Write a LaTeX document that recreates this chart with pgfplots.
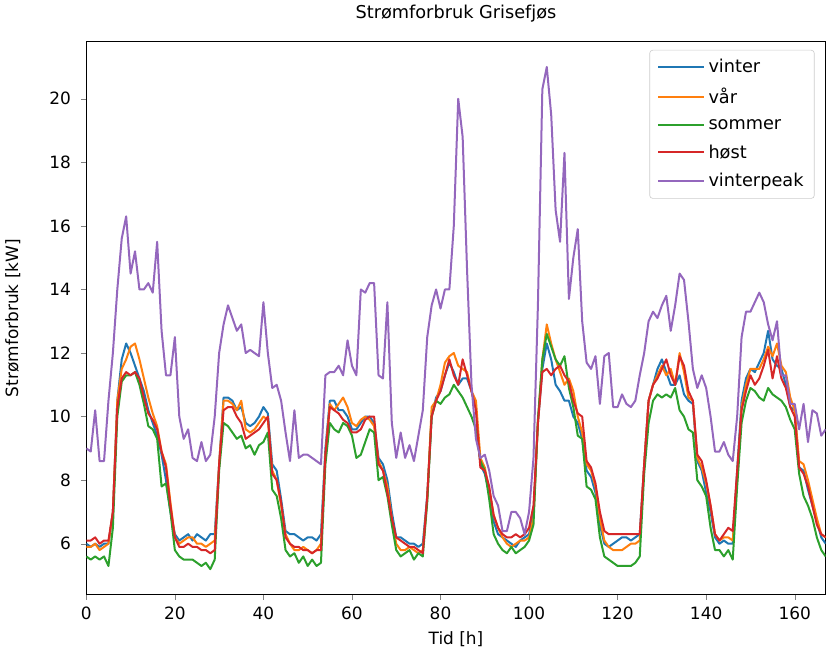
\documentclass[border=0pt]{standalone}
\usepackage{pgfplots}
\usepackage{pgfplotstable}
\pgfplotsset{compat=1.18}
\usepackage{fontspec}
\setmainfont{DejaVu Sans}
\definecolor{c1}{HTML}{1F77B4}
\definecolor{c2}{HTML}{FF7F0E}
\definecolor{c3}{HTML}{2CA02C}
\definecolor{c4}{HTML}{D62728}
\definecolor{c5}{HTML}{9467BD}
\pgfplotstableread{
h v a s o p
0 6.0 5.9 5.6 6.1 9.0
1 5.9 5.9 5.5 6.1 8.9
2 6.0 6.0 5.6 6.2 10.2
3 5.9 5.8 5.5 6.0 8.6
4 6.0 5.9 5.6 6.1 8.6
5 6.0 6.0 5.3 6.1 10.5
6 7.0 7.0 6.5 7.0 12.0
7 10.5 10.5 10.0 10.3 14.0
8 11.8 11.5 11.1 11.2 15.6
9 12.3 11.8 11.3 11.4 16.3
10 12.0 12.2 11.3 11.3 14.5
11 11.6 12.3 11.4 11.4 15.2
12 11.2 11.8 11.0 11.2 14.0
13 10.8 11.2 10.4 10.6 14.0
14 10.2 10.6 9.7 10.1 14.2
15 9.8 10.1 9.6 9.9 13.9
16 9.4 9.7 9.3 9.6 15.5
17 8.8 8.9 7.8 8.9 12.7
18 8.0 8.5 7.9 8.4 11.3
19 7.0 7.3 7.0 7.2 11.3
20 6.3 6.2 5.8 6.2 12.5
21 6.1 6.0 5.6 5.9 10.0
22 6.2 6.1 5.5 5.9 9.3
23 6.3 6.2 5.5 6.0 9.6
24 6.1 6.2 5.5 5.9 8.7
25 6.3 6.0 5.4 5.9 8.6
26 6.2 6.0 5.3 5.8 9.2
27 6.1 5.9 5.4 5.8 8.6
28 6.3 6.0 5.2 5.7 8.8
29 6.3 6.1 5.5 5.8 10.0
30 8.5 8.5 8.3 8.5 12.0
31 10.6 10.5 9.8 10.2 12.9
32 10.6 10.5 9.7 10.3 13.5
33 10.5 10.4 9.5 10.3 13.1
34 10.2 10.2 9.3 10.0 12.7
35 10.3 10.5 9.4 9.8 12.9
36 9.8 9.6 9.0 9.3 12.0
37 9.7 9.5 9.1 9.4 12.1
38 9.8 9.6 8.8 9.5 12.0
39 10.0 9.8 9.1 9.6 11.9
40 10.3 10.0 9.2 9.8 13.6
41 10.1 9.9 9.5 10.0 12.0
42 8.5 8.3 7.7 8.2 10.9
43 8.3 8.0 7.5 8.0 11.0
44 7.4 7.2 6.8 7.3 10.5
45 6.4 6.3 5.8 6.2 9.5
46 6.3 6.0 5.6 6.0 8.6
47 6.3 5.8 5.7 5.9 10.2
48 6.2 5.8 5.4 5.9 8.7
49 6.1 5.9 5.6 5.8 8.8
50 6.2 5.8 5.3 5.8 8.8
51 6.2 5.7 5.5 5.7 8.7
52 6.1 5.8 5.3 5.8 8.6
53 6.3 6.0 5.4 5.8 8.5
54 9.0 8.8 8.5 8.8 11.3
55 10.5 10.4 9.8 10.3 11.4
56 10.5 10.2 9.6 10.2 11.4
57 10.2 10.4 9.5 10.1 11.6
58 10.2 10.6 9.8 9.9 11.3
59 10.0 10.3 9.7 9.8 12.4
60 9.6 9.8 9.4 9.5 11.6
61 9.6 9.7 8.7 9.5 11.3
62 9.8 9.9 8.8 9.6 14.0
63 10.0 10.0 9.2 9.9 13.9
64 10.0 9.9 9.6 10.0 14.2
65 9.8 9.7 9.5 10.0 14.2
66 8.7 8.6 8.0 8.5 11.3
67 8.5 8.3 8.1 8.3 11.2
68 8.0 7.8 7.5 7.6 13.6
69 7.0 6.8 6.6 6.8 9.8
70 6.2 6.0 5.8 6.2 8.7
71 6.2 5.8 5.6 6.1 9.5
72 6.1 5.8 5.7 6.0 8.7
73 6.0 5.9 5.8 5.9 9.1
74 6.0 5.8 5.5 5.9 8.6
75 5.9 5.7 5.7 5.8 9.4
76 6.0 5.8 5.6 5.7 10.2
77 7.5 7.4 7.3 7.5 12.5
78 10.0 10.3 10.0 10.0 13.5
79 10.6 10.5 10.5 10.5 14.0
80 10.8 11.0 10.4 10.8 13.4
81 11.3 11.7 10.6 11.3 14.0
82 11.7 11.9 10.7 11.8 14.0
83 11.4 12.0 11.0 11.3 16.0
84 11.0 11.6 10.8 11.0 20.0
85 11.2 11.5 10.6 11.8 18.8
86 11.2 11.4 10.3 11.3 14.6
87 10.8 10.8 10.0 10.8 11.0
88 10.3 10.5 9.6 10.2 9.3
89 8.5 8.7 8.6 8.4 8.7
90 8.2 8.4 8.3 8.3 8.8
91 7.6 7.7 7.4 7.8 8.3
92 6.7 6.9 6.3 6.9 7.5
93 6.3 6.5 6.0 6.5 7.2
94 6.2 6.2 5.8 6.3 6.4
95 6.1 6.0 5.7 6.2 6.4
96 6.0 5.9 5.9 6.2 7.0
97 5.9 6.0 5.7 6.3 7.0
98 6.1 6.1 5.8 6.2 6.8
99 6.2 6.1 5.9 6.3 6.3
100 6.3 6.2 6.1 6.5 7.0
101 7.0 6.8 6.6 7.2 8.7
102 9.8 9.8 9.9 9.8 13.5
103 11.5 11.8 11.8 11.4 20.3
104 12.3 12.9 12.6 11.5 21.0
105 11.8 12.3 12.2 11.3 19.5
106 11.0 11.8 11.8 11.5 16.5
107 10.8 11.4 11.6 11.6 15.5
108 10.5 11.0 11.9 11.3 18.3
109 10.5 11.2 10.9 11.1 13.7
110 10.0 10.8 10.3 10.5 15.0
111 9.8 10.0 9.4 10.1 15.9
112 9.3 9.5 9.3 10.0 13.0
113 8.3 8.5 7.8 8.6 11.7
114 8.1 8.3 7.7 8.4 11.5
115 7.6 7.8 7.4 7.9 11.9
116 6.6 6.8 6.2 7.0 10.4
117 6.0 6.1 5.6 6.4 11.9
118 5.9 5.9 5.5 6.3 12.0
119 6.0 5.8 5.4 6.3 10.3
120 6.1 5.8 5.3 6.3 10.3
121 6.2 5.8 5.3 6.3 10.7
122 6.2 5.9 5.3 6.3 10.4
123 6.1 6.0 5.3 6.3 10.3
124 6.2 6.0 5.4 6.3 10.5
125 6.3 6.1 5.6 6.3 11.3
126 8.5 8.5 8.2 8.5 12.0
127 10.5 10.5 9.8 10.5 13.0
128 11.0 11.0 10.5 11.0 13.3
129 11.5 11.3 10.7 11.2 13.1
130 11.8 11.6 10.6 11.5 13.5
131 11.4 11.3 10.7 11.8 13.8
132 11.0 11.5 10.6 11.3 12.7
133 11.0 11.0 10.9 11.0 13.5
134 11.3 12.0 10.2 11.9 14.5
135 10.7 11.4 10.0 11.6 14.3
136 10.5 10.6 9.6 10.8 13.0
137 10.4 10.5 9.5 10.5 11.5
138 8.6 8.7 8.0 8.8 10.9
139 8.3 8.4 7.8 8.6 11.3
140 7.6 7.9 7.5 8.0 10.9
141 7.0 7.2 6.5 7.2 10.0
142 6.2 6.3 5.8 6.3 8.9
143 6.0 6.1 5.8 6.1 8.9
144 6.1 6.2 5.6 6.3 9.2
145 6.0 6.2 5.8 6.5 8.8
146 6.0 6.1 5.5 6.4 8.6
147 8.3 8.0 7.8 8.3 10.0
148 10.5 10.3 9.8 10.2 12.5
149 11.2 11.0 10.5 10.8 13.3
150 11.5 11.5 10.9 11.3 13.3
151 11.4 11.5 10.8 11.0 13.6
152 11.7 11.5 10.6 11.2 13.9
153 12.0 11.8 10.5 11.6 13.6
154 12.7 12.2 10.9 12.1 12.9
155 11.8 11.9 10.7 11.2 12.4
156 11.6 12.3 10.6 11.9 13.0
157 11.5 11.6 10.5 11.2 11.3
158 11.0 11.4 10.3 10.9 11.3
159 10.3 10.6 9.9 10.3 10.4
160 10.2 10.2 9.6 10.0 10.4
161 8.4 8.6 8.2 8.4 9.6
162 8.3 8.5 7.5 8.2 10.4
163 7.7 8.0 7.2 7.8 9.2
164 7.2 7.4 6.8 7.2 10.2
165 6.7 6.8 6.2 6.6 10.1
166 6.2 6.3 5.8 6.3 9.4
167 6.0 6.2 5.6 6.2 9.6
}\data
\begin{document}
\begin{tikzpicture}
\begin{axis}[
  width=480pt, height=359pt, scale only axis,
  xmin=0, xmax=167, ymin=4.4, ymax=21.8,
  xtick={0,20,...,160}, ytick={6,8,...,20},
  xtick pos=bottom, ytick pos=left, tick align=outside,
  major tick length=3.5pt,
  tick label style={font=\fontsize{11}{13}\selectfont},
  yticklabel style={xshift=-3pt},
  xticklabel style={yshift=-1pt},
  /pgf/number format/assume math mode=true,
  xlabel={Tid [h]}, ylabel={Strømforbruk [kW]},
  label style={font=\fontsize{11}{13}\selectfont},
  ylabel style={yshift=12pt},
  xlabel style={yshift=-1pt},
  title={Strømforbruk Grisefjøs},
  title style={font=\fontsize{11.5}{14}\selectfont, yshift=3pt},
  legend pos=north east,
  legend cell align=left,
  legend style={font=\fontsize{11.5}{16}\selectfont, draw=black!20, rounded corners=2pt, inner xsep=5pt, inner ysep=4pt, row sep=4.5pt, at={(0.985,0.985)}},
  legend image code/.code={\draw[#1, line width=1.3pt] (0cm,0cm) -- (1.05cm,0cm);},
]
\addplot[c1, line width=1.3pt, line join=round] table[x=h,y=v]{\data};
\addlegendentry{vinter}
\addplot[c2, line width=1.3pt, line join=round] table[x=h,y=a]{\data};
\addlegendentry{vår}
\addplot[c3, line width=1.3pt, line join=round] table[x=h,y=s]{\data};
\addlegendentry{sommer}
\addplot[c4, line width=1.3pt, line join=round] table[x=h,y=o]{\data};
\addlegendentry{høst}
\addplot[c5, line width=1.3pt, line join=round] table[x=h,y=p]{\data};
\addlegendentry{vinterpeak}
\end{axis}
\end{tikzpicture}
\end{document}
